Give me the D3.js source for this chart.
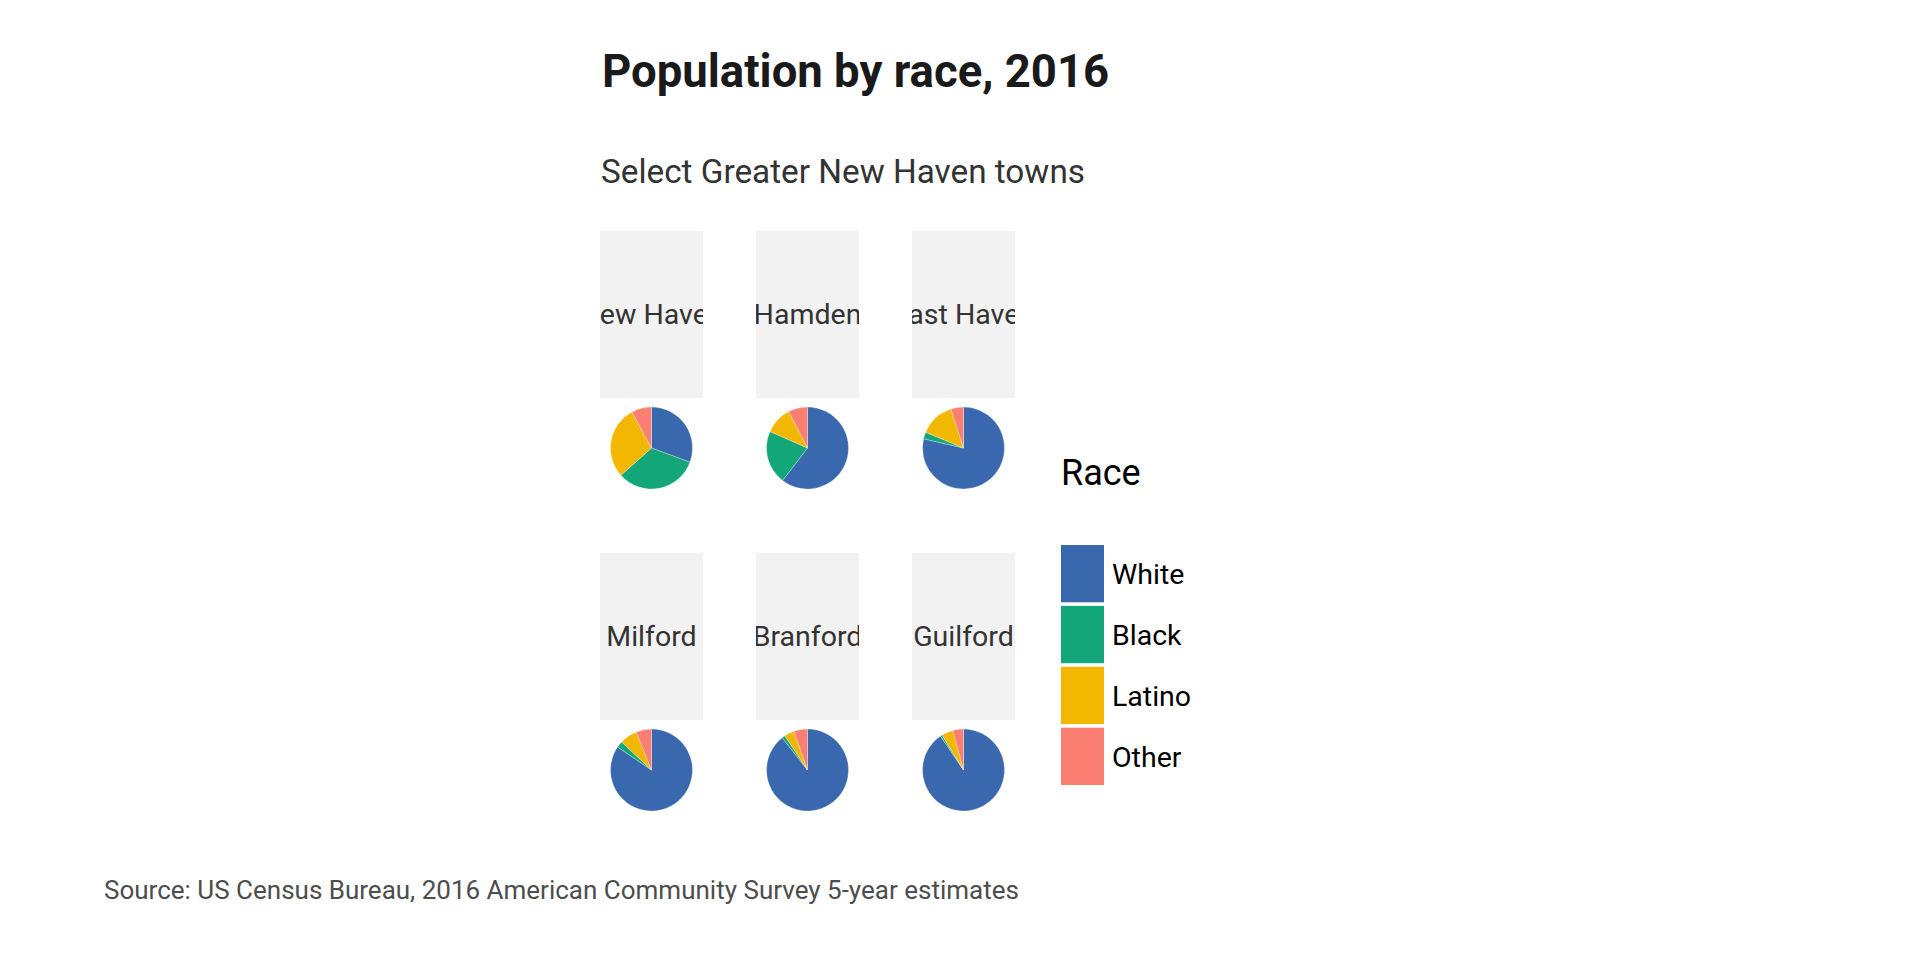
<!DOCTYPE html>
<html>
<head>
<meta charset="utf-8">
<script src="https://cdn.jsdelivr.net/npm/d3@7"></script>
<style>
  html, body { margin: 0; padding: 0; background: #ffffff; }
  svg { display: block; font-family: Roboto, "Noto Sans", sans-serif; }
</style>
</head>
<body>
<svg id="chart" width="1920" height="960"></svg>
<script>
// ---- data (shares in percent) ----
const towns  = ["New Haven", "Hamden", "East Haven", "Milford", "Branford", "Guilford"];
const races  = ["White", "Black", "Latino", "Other"];
const white  = [30.6, 60.4, 78.6, 84.5, 89.4, 90.5];
const black  = [32.8, 21.2, 2.7, 2.5, 1.3, 0.7];
const latino = [28.7, 10.8, 13.7, 6.9, 3.9, 4.6];
const other  = [7.9, 7.6, 5.0, 6.1, 5.4, 4.2];
const raceColors = ["#3a68ae", "#13a678", "#f2b701", "#fa7e72"];

const titleText    = "Population by race, 2016";
const subtitleText = "Select Greater New Haven towns";
const legendTitle  = "Race";
const sourceText   = "Source: US Census Bureau, 2016 American Community Survey 5-year estimates";

// ---- build ----
const series = [white, black, latino, other];
const data = towns.map((t, i) => ({
  town: t,
  values: races.map((r, j) => ({ race: r, value: series[j][i] }))
}));

const svg = d3.select("#chart");
const color = d3.scaleOrdinal(races, raceColors);

const ncol = 3;
const col = d3.scaleBand().domain(d3.range(ncol)).range([600, 1015]).paddingInner(0.34);
const row = d3.scaleBand().domain([0, 1]).range([231, 875]);
const stripH = 167;
const pieOffset = 217;
const radius = 41;

// title / subtitle
svg.append("text").attr("x", 602).attr("y", 87)
  .attr("font-size", 45.5).attr("font-weight", 700).attr("fill", "#1a1a1a")
  .text(titleText);
svg.append("text").attr("x", 601).attr("y", 183)
  .attr("font-size", 33.3).attr("fill", "#333333")
  .text(subtitleText);

const pie = d3.pie().sort(null).value(d => d.value);
const arc = d3.arc().innerRadius(0).outerRadius(radius);

const panels = svg.selectAll("g.panel").data(data).join("g")
  .attr("class", "panel")
  .attr("transform", (d, i) => `translate(${col(i % ncol)},${row(Math.floor(i / ncol))})`);

const defs = svg.append("defs");
data.forEach((d, i) => {
  defs.append("clipPath").attr("id", "clip" + i)
    .append("rect").attr("x", 0).attr("y", 0)
    .attr("width", col.bandwidth()).attr("height", stripH);
});

panels.append("rect")
  .attr("width", col.bandwidth()).attr("height", stripH)
  .attr("fill", "#f2f2f2");

panels.append("g").attr("clip-path", (d, i) => `url(#clip${i})`)
  .append("text")
  .attr("x", col.bandwidth() / 2).attr("y", stripH / 2)
  .attr("text-anchor", "middle").attr("dominant-baseline", "central")
  .attr("font-size", 28.5).attr("fill", "#333333")
  .text(d => d.town);

panels.append("g")
  .attr("transform", `translate(${col.bandwidth() / 2},${pieOffset})`)
  .selectAll("path").data(d => pie(d.values)).join("path")
  .attr("d", arc)
  .attr("fill", d => color(d.data.race))
  .attr("stroke", "#ffffff").attr("stroke-width", 0.3);

// legend
const legend = svg.append("g").attr("transform", "translate(1061,0)");
legend.append("text").attr("x", 0).attr("y", 485)
  .attr("font-size", 36).attr("fill", "#000000").text(legendTitle);
const ly = d3.scaleBand().domain(races).range([545, 785]).paddingInner(0.06);
const items = legend.selectAll("g.item").data(races).join("g").attr("class", "item");
items.append("rect")
  .attr("x", 0).attr("y", d => ly(d))
  .attr("width", 43).attr("height", ly.bandwidth())
  .attr("fill", d => color(d));
items.append("text")
  .attr("x", 51).attr("y", d => ly(d) + ly.bandwidth() / 2 + 1)
  .attr("dominant-baseline", "central")
  .attr("font-size", 28.5).attr("fill", "#000000")
  .text(d => d);

// source
svg.append("text").attr("x", 104).attr("y", 899)
  .attr("font-size", 26).attr("fill", "#4d4d4d")
  .text(sourceText);
</script>
</body>
</html>
